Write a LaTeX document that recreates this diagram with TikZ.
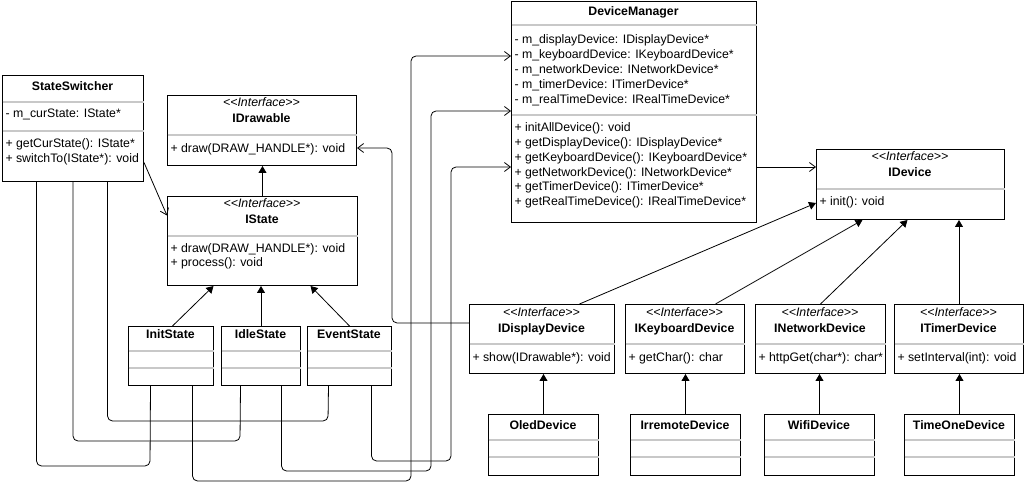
\documentclass[tikz,border=0pt]{standalone}
\usepackage{fontspec}
\setmainfont{Liberation Sans}
\usetikzlibrary{arrows.meta}
\definecolor{SepGray}{HTML}{C8C8C8}
\newcommand{\ifacetag}{<\kern0pt<Interface>\kern0pt>}

\begin{document}
\begin{tikzpicture}[x=1pt, y=-1pt, line width=1pt,
    font=\fontsize{12.3}{14}\selectfont,
    umlbox/.style={draw, anchor=north west, inner sep=0pt},
    sep/.style={draw=SepGray, line width=1.5pt, shorten <=0.5pt, shorten >=0.5pt},
    cname/.style={font=\fontsize{12.3}{14}\selectfont\bfseries, anchor=base, inner sep=0pt},
    stereo/.style={font=\fontsize{12.3}{14}\selectfont\itshape, anchor=base, inner sep=0pt},
    member/.style={anchor=base west, inner sep=0pt},
    inherit/.style={-{Triangle[length=7pt,width=8pt]}, line width=0.8pt},
    assoc/.style={-{Straight Barb[length=6pt,width=9pt]}, line width=0.8pt, rounded corners=5pt},
    link/.style={line width=0.8pt, rounded corners=5pt}]
  \useasboundingbox (0,0) rectangle (1026,494);

  % StateSwitcher
  \node[umlbox, minimum width=141pt, minimum height=106pt] (switcher) at (2,75) {};
  \node[cname] (switcher-name) at (72.5,91) {StateSwitcher};
  \draw[sep] (switcher.west |- 0,102) -- (switcher.east |- 0,102);
  \node[member] (switcher-a1) at (5,118) {- m\_curState: IState*};
  \draw[sep] (switcher.west |- 0,131) -- (switcher.east |- 0,131);
  \node[member] (switcher-m1) at (5,148) {+ getCurState(): IState*};
  \node[member] (switcher-m2) at (5,163) {+ switchTo(IState*): void};

  % IDrawable
  \node[umlbox, minimum width=189pt, minimum height=70pt] (idrawable) at (167,95) {};
  \node[stereo] (idrawable-st) at (261.5,107) {\ifacetag};
  \node[cname] (idrawable-name) at (261.5,123) {IDrawable};
  \draw[sep] (idrawable.west |- 0,135) -- (idrawable.east |- 0,135);
  \node[member] (idrawable-m1) at (170,153) {+ draw(DRAW\_HANDLE*): void};

  % IState
  \node[umlbox, minimum width=190pt, minimum height=89pt] (istate) at (167,196) {};
  \node[stereo] (istate-st) at (262,208) {\ifacetag};
  \node[cname] (istate-name) at (262,224) {IState};
  \draw[sep] (istate.west |- 0,236) -- (istate.east |- 0,236);
  \node[member] (istate-m1) at (170,253) {+ draw(DRAW\_HANDLE*): void};
  \node[member] (istate-m2) at (170,267) {+ process(): void};

  % states
  \node[umlbox, minimum width=85pt, minimum height=59pt] (init) at (128,326) {};
  \node[cname] (init-name) at (170.5,339) {InitState};
  \node[umlbox, minimum width=79pt, minimum height=59pt] (idle) at (221,326) {};
  \node[cname] (idle-name) at (260.5,339) {IdleState};
  \node[umlbox, minimum width=84pt, minimum height=59pt] (event) at (307,326) {};
  \node[cname] (event-name) at (349,339) {EventState};
  \foreach \c in {init, idle, event} {
    \draw[sep] (\c.west |- 0,351) -- (\c.east |- 0,351);
    \draw[sep] (\c.west |- 0,368) -- (\c.east |- 0,368);
  }

  % DeviceManager
  \node[umlbox, minimum width=245pt, minimum height=221pt] (dm) at (511,1) {};
  \node[cname] (dm-name) at (633.5,16) {DeviceManager};
  \draw[sep] (dm.west |- 0,25) -- (dm.east |- 0,25);
  \node[member] (dm-a1) at (514,44) {- m\_displayDevice: IDisplayDevice*};
  \node[member] (dm-a2) at (514,59) {- m\_keyboardDevice: IKeyboardDevice*};
  \node[member] (dm-a3) at (514,74) {- m\_networkDevice: INetworkDevice*};
  \node[member] (dm-a4) at (514,89) {- m\_timerDevice: ITimerDevice*};
  \node[member] (dm-a5) at (514,104) {- m\_realTimeDevice: IRealTimeDevice*};
  \draw[sep] (dm.west |- 0,115) -- (dm.east |- 0,115);
  \node[member] (dm-m1) at (514,132) {+ initAllDevice(): void};
  \node[member] (dm-m2) at (514,147) {+ getDisplayDevice(): IDisplayDevice*};
  \node[member] (dm-m3) at (514,162) {+ getKeyboardDevice(): IKeyboardDevice*};
  \node[member] (dm-m4) at (514,177) {+ getNetworkDevice(): INetworkDevice*};
  \node[member] (dm-m5) at (514,191) {+ getTimerDevice(): ITimerDevice*};
  \node[member] (dm-m6) at (514,206) {+ getRealTimeDevice(): IRealTimeDevice*};

  % IDevice
  \node[umlbox, minimum width=188pt, minimum height=70pt] (idevice) at (816,149) {};
  \node[stereo] (idevice-st) at (910,161) {\ifacetag};
  \node[cname] (idevice-name) at (910,177) {IDevice};
  \draw[sep] (idevice.west |- 0,189) -- (idevice.east |- 0,189);
  \node[member] (idevice-m1) at (819,206) {+ init(): void};

  % device interfaces
  \node[umlbox, minimum width=145pt, minimum height=69pt] (idisp) at (469,304) {};
  \node[stereo] (idisp-st) at (541.5,317) {\ifacetag};
  \node[cname] (idisp-name) at (541.5,333) {IDisplayDevice};
  \node[member] (idisp-m1) at (472,362) {+ show(IDrawable*): void};
  \node[umlbox, minimum width=119pt, minimum height=69pt] (ikey) at (625,304) {};
  \node[stereo] (ikey-st) at (684.5,317) {\ifacetag};
  \node[cname] (ikey-name) at (684.5,333) {IKeyboardDevice};
  \node[member] (ikey-m1) at (628,362) {+ getChar(): char};
  \node[umlbox, minimum width=130pt, minimum height=69pt] (inet) at (755,304) {};
  \node[stereo] (inet-st) at (820,317) {\ifacetag};
  \node[cname] (inet-name) at (820,333) {INetworkDevice};
  \node[member] (inet-m1) at (758,362) {+ httpGet(char*): char*};
  \node[umlbox, minimum width=129pt, minimum height=69pt] (itimer) at (894,304) {};
  \node[stereo] (itimer-st) at (958.5,317) {\ifacetag};
  \node[cname] (itimer-name) at (958.5,333) {ITimerDevice};
  \node[member] (itimer-m1) at (897,362) {+ setInterval(int): void};
  \foreach \c in {idisp, ikey, inet, itimer}
    \draw[sep] (\c.west |- 0,344) -- (\c.east |- 0,344);

  % devices
  \node[umlbox, minimum width=110pt, minimum height=61pt] (oled) at (488,414) {};
  \node[cname] (oled-name) at (543,429) {OledDevice};
  \node[umlbox, minimum width=110pt, minimum height=61pt] (irremote) at (630,414) {};
  \node[cname] (irremote-name) at (685,429) {IrremoteDevice};
  \node[umlbox, minimum width=110pt, minimum height=61pt] (wifi) at (764,414) {};
  \node[cname] (wifi-name) at (819,429) {WifiDevice};
  \node[umlbox, minimum width=110pt, minimum height=61pt] (timeone) at (904,414) {};
  \node[cname] (timeone-name) at (959,429) {TimeOneDevice};
  \foreach \c in {oled, irremote, wifi, timeone} {
    \draw[sep] (\c.west |- 0,440) -- (\c.east |- 0,440);
    \draw[sep] (\c.west |- 0,457) -- (\c.east |- 0,457);
  }

  % generalizations
  \draw[inherit] (istate.north) -- (istate.north |- idrawable.south);
  \draw[inherit] ([xshift=1.5pt]init.north) -- ([xshift=-49pt]istate.south);
  \draw[inherit] (idle.north) -- (idle.north |- istate.south);
  \draw[inherit] (event.north) -- ([xshift=48pt]istate.south);
  \draw[inherit] ([xshift=37.5pt]idisp.north) -- (idevice.west |- 0,203);
  \draw[inherit] ([xshift=30.5pt]ikey.north) -- ([xshift=-48pt]idevice.south);
  \draw[inherit] (inet.north) -- ([xshift=-3pt]idevice.south);
  \draw[inherit] (itimer.north) -- (itimer.north |- idevice.south);
  \draw[inherit] (oled.north) -- (oled.north |- idisp.south);
  \draw[inherit] (irremote.north) -- (irremote.north |- ikey.south);
  \draw[inherit] (wifi.north) -- (wifi.north |- inet.south);
  \draw[inherit] (timeone.north) -- (timeone.north |- itimer.south);

  % associations
  \draw[assoc] ([yshift=-34pt]switcher.east) -- ([yshift=25.5pt]istate.west);
  \draw[assoc] (dm.east |- 0,167) -- (idevice.west |- 0,167);
  \draw[assoc] (idisp.west |- 0,323) -| (392,148) -- (idrawable.east |- 0,148);
  \draw[assoc] ([xshift=21.5pt]init.south) |- (411,481) |- (dm.west |- 0,56);
  \draw[assoc] ([xshift=20.5pt]idle.south) |- (431,471) |- (dm.west |- 0,111);
  \draw[assoc] ([xshift=22pt]event.south) |- (451,461) |- (dm.west |- 0,167);

  % switcher to states
  \draw[link] ([xshift=-36.5pt]switcher.south) |- (150,466) -- ([xshift=-20.5pt]init.south);
  \draw[link] (switcher.south) |- (240,441) -- ([xshift=-20.5pt]idle.south);
  \draw[link] ([xshift=34.5pt]switcher.south) |- (328,421) -- ([xshift=-21pt]event.south);
\end{tikzpicture}
\end{document}
